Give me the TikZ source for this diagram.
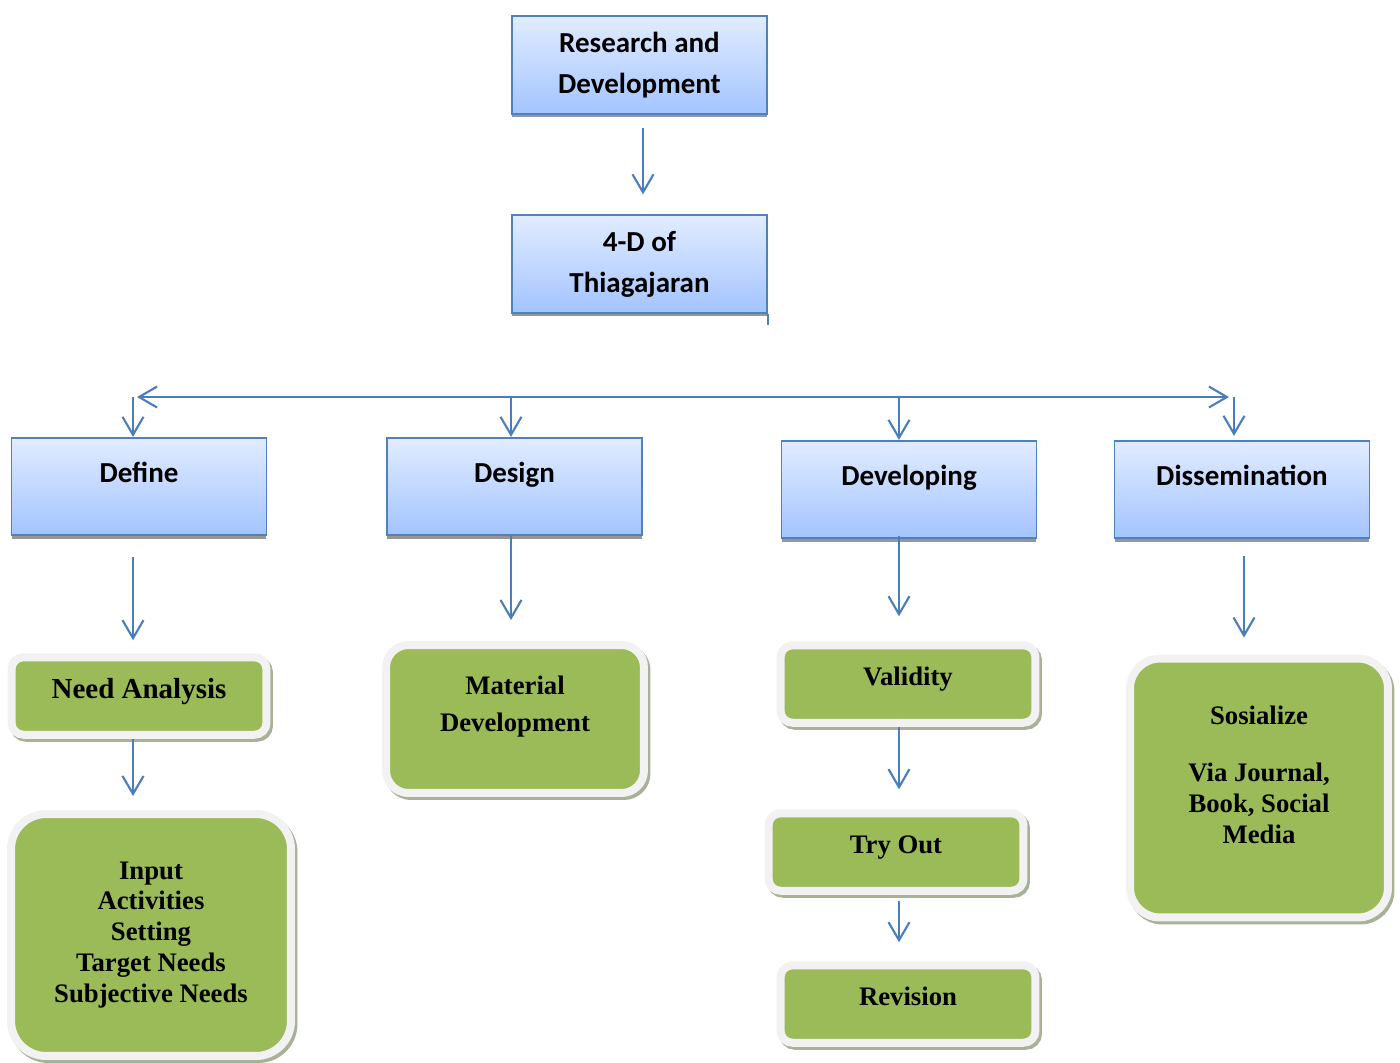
\documentclass[tikz,border=0pt]{standalone}
\usepackage{fontspec}
\setmainfont{Liberation Serif}
\newfontfamily\calfont{Carlito}
\usetikzlibrary{arrows.meta, positioning}
\definecolor{boxtop}{RGB}{225, 236, 255}
\definecolor{boxbottom}{RGB}{163, 196, 255}
\definecolor{boxline}{RGB}{79, 129, 189}
\definecolor{linkblue}{RGB}{74, 126, 187}
\definecolor{leafgreen}{RGB}{155, 187, 89}
\definecolor{leafframe}{RGB}{242, 242, 242}
\definecolor{leafshadow}{RGB}{168, 178, 150}
\definecolor{boxshadow}{RGB}{150, 150, 150}

\begin{document}
\begin{tikzpicture}[x=0.02cm, y=-0.02cm,
    stage/.style={rectangle, draw=boxline, line width=1pt, top color=boxtop, bottom color=boxbottom,
        preaction={fill=boxshadow, transform canvas={yshift=-0.07cm}},
        minimum width=5.1cm, minimum height=1.95cm, inner sep=0pt, align=center,
        font=\calfont\bfseries\fontsize{16.5}{23.3}\selectfont},
    leaf/.style={rectangle, rounded corners=0.24cm, draw=leafframe, line width=0.16cm, fill=leafgreen,
        preaction={draw=leafshadow, fill=leafshadow, transform canvas={shift={(0.05cm,-0.06cm)}}},
        minimum width=5.1cm, minimum height=1.55cm, inner sep=0pt, align=center,
        font=\bfseries\fontsize{15.2}{17.6}\selectfont},
    link/.style={draw=linkblue, line width=1.2pt, -{Straight Barb[length=0.36cm, width=0.42cm]}},
    bus/.style={draw=linkblue, line width=1.2pt,
        {Straight Barb[length=0.36cm, width=0.42cm]}-{Straight Barb[length=0.36cm, width=0.42cm]}}
]
\useasboundingbox (0,0) rectangle (1400,1062);

% top of the tree
\node[stage] (rd) at (639.5,65) {Research and\\Development};
\node[stage] (thia) at (639.5,264) {4-D of\\Thiagajaran};
\draw[boxline, line width=0.8pt] (thia.south east) -- ++(0,11);

% the four stages
\node[stage] (define) at (139,486.5) {Define\\[-0.24cm]};
\node[stage] (design) at (514.5,486.5) {Design\\[-0.24cm]};
\node[stage] (develop) at (909,489.5) {Developing\\[-0.24cm]};
\node[stage] (dissem) at (1242,489.5) {Dissemination\\[-0.24cm]};

% green leaves
\node[leaf, font=\bfseries\fontsize{16.5}{19}\selectfont] (need) at (139,696) {Need Analysis\\[-0.38cm]};
\node[leaf, rounded corners=0.7cm, minimum width=5.6cm, minimum height=4.84cm] (inputs) at (151,935)
    {Input\\Activities\\Setting\\Target Needs\\Subjective Needs};
\node[leaf, rounded corners=0.45cm, minimum width=5.16cm, minimum height=2.96cm,
    font=\bfseries\fontsize{15.2}{21}\selectfont] (material) at (515,719) {Material\\Development\\[-0.12cm]};
\node[leaf] (validity) at (908,684) {Validity\\[-0.32cm]};
\node[leaf] (tryout) at (896,852) {Try Out\\[-0.32cm]};
\node[leaf] (revision) at (908,1004) {Revision\\[-0.32cm]};
\node[leaf, rounded corners=0.6cm, minimum width=5.16cm, minimum height=5.18cm] (sosial) at (1259,788)
    {Sosialize\\[0.52cm]Via Journal,\\Book, Social\\Media\\[-0.08cm]};

% connectors
\draw[link, shorten <=0.26cm, shorten >=0.4cm] (643,0 |- rd.south) -- (643,0 |- thia.north);
\coordinate (busL) at (137,397);
\coordinate (busR) at (1229,397);
\draw[bus] (busL) -- (busR);
\draw[link] (133,0 |- busL) -- (133,0 |- define.north);
\draw[link] (511,0 |- busL) -- (511,0 |- design.north);
\draw[link] (899,0 |- busL) -- (899,0 |- develop.north);
\draw[link, shorten >=0.08cm] (1234,0 |- busL) -- (1234,0 |- dissem.north);

\draw[link, shorten <=0.42cm, shorten >=0.26cm] (133,0 |- define.south) -- (133,0 |- need.north);
\draw[link, shorten >=0.42cm] (511,0 |- design.south) -- (511,0 |- material.north);
\draw[link, shorten <=-0.06cm, shorten >=0.5cm] (899,0 |- develop.south) -- (899,0 |- validity.north);
\draw[link, shorten <=0.34cm, shorten >=0.34cm] (1244,0 |- dissem.south) -- (1244,0 |- sosial.north);

\draw[link, shorten >=0.28cm] (133,0 |- need.south) -- (133,0 |- inputs.north);
\draw[link, shorten >=0.4cm] (899,0 |- validity.south) -- (899,0 |- tryout.north);
\draw[link, shorten <=0.12cm, shorten >=0.38cm] (899,0 |- tryout.south) -- (899,0 |- revision.north);

\end{tikzpicture}
\end{document}
